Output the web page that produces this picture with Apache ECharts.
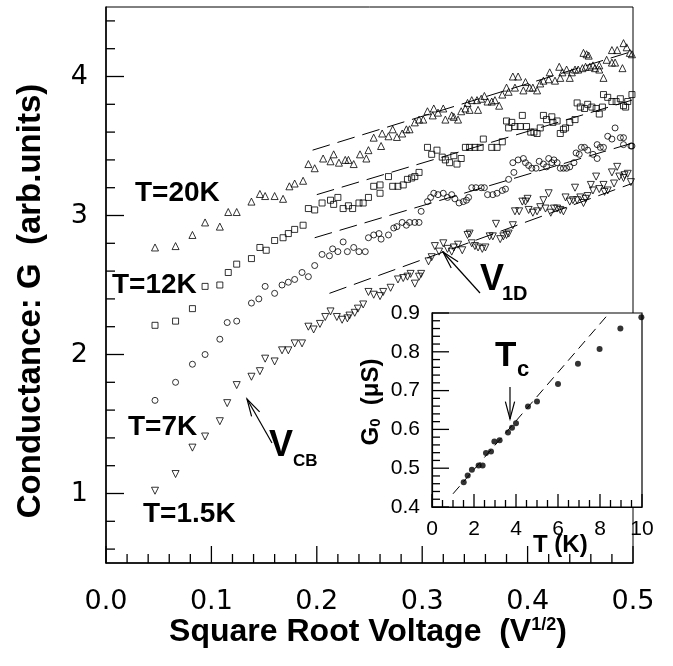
<!DOCTYPE html>
<html>
<head>
<meta charset="utf-8">
<title>Conductance vs square root voltage</title>
<script src="https://cdn.jsdelivr.net/npm/echarts@6/dist/echarts.min.js"></script>
<style>
    html, body { margin: 0; padding: 0; background: #fff; }
    #chart { width: 673px; height: 666px; }
</style>
</head>
<body>
<div id="chart"></div>
<script>
'use strict';

// main panel: [sqrt(V), G]
var t20K = [[0.0465,2.77],[0.066,2.78],[0.082,2.86],[0.094,2.95],[0.108,2.92],[0.116,3.025],[0.124,3.025],[0.138,3.10],[0.146,3.155],[0.151,3.14],[0.160,3.14],[0.168,3.12],[0.174,3.21],[0.179,3.23],[0.187,3.25],[0.192,3.37],[0.198,3.34],[0.206,3.41],[0.213,3.39],[0.216,3.44],[0.221,3.38],[0.227,3.40],[0.230,3.40],[0.235,3.37],[0.241,3.44],[0.247,3.41],[0.249,3.47],[0.254,3.56],[0.261,3.50],[0.262,3.59],[0.268,3.57],[0.272,3.62],[0.276,3.565],[0.281,3.59],[0.285,3.62],[0.288,3.62],[0.293,3.67],[0.297,3.69],[0.301,3.69],[0.305,3.75],[0.310,3.72],[0.311,3.77],[0.315,3.74],[0.320,3.77],[0.322,3.69],[0.328,3.72],[0.330,3.71],[0.334,3.69],[0.337,3.75],[0.341,3.77],[0.343,3.81],[0.345,3.76],[0.347,3.83],[0.352,3.83],[0.353,3.76],[0.356,3.84],[0.359,3.86],[0.362,3.82],[0.366,3.82],[0.369,3.83],[0.373,3.79],[0.376,3.87],[0.380,3.92],[0.382,3.89],[0.386,4.00],[0.388,3.92],[0.391,4.00],[0.396,3.90],[0.398,3.96],[0.402,3.92],[0.405,3.92],[0.409,3.90],[0.412,3.95],[0.415,3.97],[0.420,3.98],[0.421,4.03],[0.426,3.97],[0.430,4.07],[0.431,3.99],[0.433,4.03],[0.437,4.05],[0.440,3.99],[0.442,4.03],[0.445,4.05],[0.448,4.05],[0.452,4.06],[0.453,4.17],[0.455,4.07],[0.456,4.16],[0.458,4.15],[0.459,4.07],[0.462,4.08],[0.464,4.06],[0.468,4.05],[0.468,4.08],[0.472,3.99],[0.475,4.12],[0.480,4.10],[0.480,4.19],[0.483,4.10],[0.485,4.19],[0.490,4.06],[0.491,4.24],[0.494,4.21],[0.497,4.17],[0.499,4.16]];

var t12K = [[0.0465,2.21],[0.066,2.24],[0.082,2.33],[0.094,2.49],[0.108,2.50],[0.116,2.59],[0.124,2.65],[0.138,2.69],[0.146,2.77],[0.152,2.75],[0.160,2.82],[0.168,2.84],[0.173,2.87],[0.179,2.90],[0.187,2.93],[0.192,3.05],[0.198,3.04],[0.205,3.09],[0.213,3.11],[0.216,3.08],[0.220,3.13],[0.225,3.05],[0.230,3.07],[0.234,3.05],[0.240,3.09],[0.244,3.09],[0.249,3.13],[0.254,3.21],[0.260,3.22],[0.260,3.16],[0.268,3.28],[0.272,3.21],[0.277,3.21],[0.282,3.22],[0.286,3.26],[0.290,3.27],[0.293,3.28],[0.297,3.31],[0.305,3.49],[0.309,3.44],[0.314,3.47],[0.319,3.42],[0.322,3.40],[0.326,3.38],[0.330,3.43],[0.333,3.37],[0.337,3.41],[0.341,3.49],[0.345,3.49],[0.350,3.49],[0.355,3.49],[0.358,3.55],[0.366,3.49],[0.371,3.49],[0.376,3.53],[0.380,3.68],[0.382,3.63],[0.385,3.67],[0.388,3.64],[0.393,3.64],[0.395,3.72],[0.399,3.64],[0.403,3.60],[0.406,3.60],[0.409,3.59],[0.412,3.63],[0.415,3.72],[0.418,3.69],[0.423,3.71],[0.424,3.67],[0.428,3.68],[0.431,3.59],[0.434,3.62],[0.436,3.63],[0.440,3.67],[0.445,3.69],[0.447,3.81],[0.450,3.78],[0.454,3.77],[0.457,3.80],[0.461,3.78],[0.465,3.77],[0.468,3.73],[0.471,3.78],[0.472,3.87],[0.476,3.85],[0.480,3.82],[0.484,3.82],[0.488,3.84],[0.491,3.79],[0.493,3.78],[0.495,3.82],[0.499,3.87]];

var t7K = [[0.0465,1.67],[0.066,1.80],[0.082,1.93],[0.094,2.00],[0.108,2.11],[0.115,2.23],[0.124,2.24],[0.138,2.37],[0.145,2.40],[0.151,2.49],[0.160,2.44],[0.167,2.50],[0.173,2.52],[0.179,2.54],[0.186,2.59],[0.192,2.56],[0.198,2.64],[0.205,2.72],[0.212,2.71],[0.215,2.76],[0.220,2.74],[0.225,2.81],[0.229,2.74],[0.235,2.77],[0.240,2.74],[0.246,2.74],[0.249,2.84],[0.254,2.86],[0.259,2.87],[0.261,2.83],[0.268,2.86],[0.273,2.91],[0.276,2.92],[0.281,2.95],[0.285,2.93],[0.288,2.95],[0.293,2.95],[0.297,2.95],[0.299,3.03],[0.305,3.10],[0.308,3.13],[0.311,3.16],[0.315,3.15],[0.320,3.16],[0.324,3.13],[0.328,3.15],[0.331,3.12],[0.335,3.09],[0.339,3.10],[0.342,3.11],[0.344,3.13],[0.347,3.20],[0.351,3.20],[0.356,3.20],[0.359,3.20],[0.362,3.15],[0.367,3.15],[0.371,3.16],[0.376,3.18],[0.379,3.19],[0.382,3.26],[0.387,3.31],[0.386,3.38],[0.391,3.40],[0.396,3.41],[0.398,3.38],[0.401,3.36],[0.404,3.34],[0.408,3.34],[0.411,3.39],[0.415,3.37],[0.418,3.35],[0.420,3.41],[0.423,3.38],[0.425,3.40],[0.428,3.38],[0.431,3.34],[0.434,3.34],[0.437,3.34],[0.440,3.35],[0.444,3.38],[0.446,3.45],[0.449,3.44],[0.451,3.49],[0.454,3.49],[0.457,3.47],[0.462,3.44],[0.466,3.51],[0.466,3.41],[0.469,3.49],[0.472,3.49],[0.476,3.57],[0.480,3.55],[0.483,3.63],[0.488,3.56],[0.491,3.56],[0.491,3.51],[0.498,3.50],[0.499,3.50]];

var t1p5K = [[0.0465,1.02],[0.066,1.14],[0.082,1.33],[0.094,1.41],[0.108,1.52],[0.115,1.65],[0.124,1.78],[0.138,1.84],[0.146,1.88],[0.151,1.97],[0.160,1.95],[0.167,2.03],[0.173,2.03],[0.179,2.08],[0.186,2.08],[0.192,2.20],[0.197,2.18],[0.203,2.22],[0.208,2.27],[0.213,2.31],[0.219,2.27],[0.224,2.25],[0.229,2.26],[0.231,2.28],[0.236,2.30],[0.239,2.33],[0.244,2.36],[0.249,2.45],[0.254,2.43],[0.260,2.42],[0.263,2.45],[0.270,2.48],[0.277,2.54],[0.282,2.55],[0.286,2.56],[0.289,2.58],[0.293,2.51],[0.297,2.56],[0.299,2.58],[0.306,2.67],[0.309,2.70],[0.312,2.78],[0.316,2.74],[0.320,2.80],[0.324,2.76],[0.328,2.74],[0.330,2.77],[0.334,2.79],[0.338,2.75],[0.343,2.86],[0.345,2.87],[0.347,2.80],[0.350,2.78],[0.353,2.77],[0.357,2.76],[0.360,2.77],[0.364,2.85],[0.367,2.85],[0.370,2.94],[0.374,2.83],[0.377,2.85],[0.380,2.86],[0.382,2.87],[0.386,2.93],[0.388,3.03],[0.392,3.03],[0.395,3.10],[0.398,3.10],[0.400,3.12],[0.401,3.04],[0.405,3.02],[0.409,3.03],[0.412,3.06],[0.415,3.11],[0.417,3.05],[0.420,3.16],[0.422,3.02],[0.425,3.05],[0.428,3.05],[0.431,3.04],[0.434,3.03],[0.436,3.13],[0.440,3.10],[0.443,3.11],[0.445,3.20],[0.447,3.11],[0.450,3.13],[0.453,3.09],[0.455,3.12],[0.457,3.14],[0.460,3.22],[0.462,3.18],[0.465,3.28],[0.468,3.19],[0.472,3.22],[0.473,3.17],[0.476,3.18],[0.480,3.31],[0.482,3.23],[0.485,3.35],[0.487,3.28],[0.491,3.27],[0.492,3.29],[0.495,3.30],[0.498,3.24]];

// dashed fits, start and end points
var fit20K = [[0.196, 3.47], [0.499, 4.18]];
var fit12K = [[0.200, 3.15], [0.499, 3.83]];
var fit7K = [[0.198, 2.84], [0.499, 3.52]];
var fit1p5K = [[0.212, 2.44], [0.499, 3.23]];

// main panel ticks
var xMajorTicks = [0, 0.1, 0.2, 0.3, 0.4, 0.5];
var xMinorTicks = [0.02, 0.04, 0.06, 0.08, 0.12, 0.14, 0.16, 0.18, 0.22, 0.24, 0.26, 0.28, 0.32, 0.34, 0.36, 0.38, 0.42, 0.44, 0.46, 0.48];
var yMajorTicks = [1, 2, 3, 4];
var yMinorTicks = [0.6, 0.8, 1.2, 1.4, 1.6, 1.8, 2.2, 2.4, 2.6, 2.8, 3.2, 3.4, 3.6, 3.8, 4.2, 4.4];

// inset: G0 vs T
var insetT = [1.51, 1.70, 1.90, 2.22, 2.41, 2.57, 2.81, 2.97, 3.22, 3.62, 3.81, 4.00, 4.57, 5.00, 6.00, 6.95, 7.98, 8.97, 9.97];
var insetG = [0.464, 0.481, 0.496, 0.507, 0.507, 0.539, 0.543, 0.569, 0.572, 0.592, 0.604, 0.616, 0.659, 0.672, 0.717, 0.769, 0.807, 0.860, 0.889];
var insetFitT = [1.0, 8.3];
var insetFitG = [0.434, 0.891];

// inset ticks
var insetXMajor = [0, 2, 4, 6, 8, 10];
var insetXMinor = [0.5, 1, 1.5, 2.5, 3, 3.5, 4.5, 5, 5.5, 6.5, 7, 7.5, 8.5, 9, 9.5];
var insetYMajor = [0.4, 0.5, 0.6, 0.7, 0.8, 0.9];
var insetYMinor = [0.42, 0.44, 0.46, 0.48, 0.52, 0.54, 0.56, 0.58, 0.62, 0.64, 0.66, 0.68, 0.72, 0.74, 0.76, 0.78, 0.82, 0.84, 0.86, 0.88];

var FONT = "'Liberation Sans', Arial, sans-serif";
var TICKFONT = "'DejaVu Sans', sans-serif";

function zip(a, b) {
    var arr = [];
    for (var i = 0; i < a.length; i++) {
        arr.push([a[i], b[i]]);
    }
    return arr;
}

function hollow(name, symbol, size, data, rotate) {
    return {
        name: name,
        type: 'scatter',
        xAxisIndex: 0,
        yAxisIndex: 0,
        symbol: symbol,
        symbolSize: size,
        symbolRotate: rotate || 0,
        clip: false,
        itemStyle: { color: 'rgba(0,0,0,0)', borderColor: '#000', borderWidth: 1 },
        data: data,
        z: 3
    };
}

function fitLine(data) {
    return {
        type: 'line',
        xAxisIndex: 0,
        yAxisIndex: 0,
        symbol: 'none',
        silent: true,
        clip: false,
        lineStyle: { color: '#000', width: 1, type: [18, 8] },
        data: data,
        z: 2
    };
}

function label(text, x, y, size, extra) {
    var st = {
        text: text,
        x: x,
        y: y,
        fill: '#000',
        font: 'bold ' + size + 'px ' + FONT,
        textAlign: 'left',
        textVerticalAlign: 'middle'
    };
    for (var k in extra) { st[k] = extra[k]; }
    return { type: 'text', z: 20, style: st };
}

// open arrow from tail (x1,y1) to tip (x2,y2)
function arrow(x1, y1, x2, y2) {
    var a = Math.atan2(y2 - y1, x2 - x1);
    var head = 18, spread = 0.26;
    var p1 = [x2 - head * Math.cos(a - spread), y2 - head * Math.sin(a - spread)];
    var p2 = [x2 - head * Math.cos(a + spread), y2 - head * Math.sin(a + spread)];
    return [
        { type: 'line', z: 20, shape: { x1: x1, y1: y1, x2: x2, y2: y2 }, style: { stroke: '#000', lineWidth: 1.2 } },
        { type: 'polyline', z: 20, shape: { points: [p1, [x2, y2], p2] }, style: { stroke: '#000', fill: null, lineWidth: 1.2 } }
    ];
}

var graphics = [
    label('T=20K', 135, 193, 28),
    label('T=12K', 112, 285, 28),
    label('T=7K', 128, 427, 28),
    label('T=1.5K', 143, 514, 28),
    label('V', 269, 446, 36),
    label('CB', 293, 461, 17),
    label('V', 480, 280, 36),
    label('1D', 502, 294, 20),
    label('T', 495, 356, 35),
    label('c', 517, 370, 22),
    label('T (K)', 533, 545, 24),
    label('{a|Square Root Voltage  (V}{s|1/2}{a|)}', 368, 632, 32, {
        textAlign: 'center',
        rich: {
            a: { font: 'bold 32px ' + FONT, fill: '#000' },
            s: { font: 'bold 18px ' + FONT, fill: '#000', verticalAlign: 'top', padding: [0, 0, 10, 0] }
        }
    }),
    {
        type: 'text', z: 20, x: 31, y: 301, rotation: Math.PI / 2,
        style: {
            text: 'Conductance: G  (arb.units)', fill: '#000',
            font: 'bold 33px ' + FONT, textAlign: 'center', textVerticalAlign: 'middle'
        }
    },
    {
        type: 'text', z: 20, x: 371, y: 402, rotation: Math.PI / 2,
        style: {
            text: '{a|G}{b|0}{a|  (μS)}', fill: '#000', textAlign: 'center', textVerticalAlign: 'middle',
            rich: {
                a: { font: 'bold 24px ' + FONT, fill: '#000' },
                b: { font: 'bold 15px ' + FONT, fill: '#000', verticalAlign: 'bottom', padding: [8, 0, 0, 0] }
            }
        }
    }
].concat(arrow(272, 443, 247, 399), arrow(480, 293, 443, 252), arrow(510, 387, 510, 419));

var chart = echarts.init(document.getElementById('chart'));

var option = {
    animation: false,
    backgroundColor: '#fff',
    grid: [{
        left: 106, top: 7, width: 527, height: 556,
        show: true, borderColor: '#000', borderWidth: 1, backgroundColor: 'rgba(0,0,0,0)'
    }, {
        left: 432, top: 313, width: 210, height: 194, z: 5,
        show: true, borderColor: '#000', borderWidth: 1.2, backgroundColor: '#fff'
    }],
    xAxis: [{
        gridIndex: 0, type: 'value', min: 0, max: 0.5, interval: 0.1,
        axisLine: { show: true, lineStyle: { color: '#000', width: 1.5 } },
        axisTick: { show: false },
        minorTick: { show: false },
        splitLine: { show: false },
        axisLabel: {
            color: '#000', fontSize: 27, fontFamily: TICKFONT, margin: 25,
            formatter: function (v) { return v.toFixed(1); }
        }
    }, {
        gridIndex: 1, type: 'value', min: 0, max: 10, interval: 2, z: 6,
        axisLine: { show: true, lineStyle: { color: '#000', width: 1.2 } },
        axisTick: { show: false },
        minorTick: { show: false },
        splitLine: { show: false },
        axisLabel: { color: '#000', fontSize: 21, fontFamily: FONT, margin: 12 }
    }],
    yAxis: [{
        gridIndex: 0, type: 'value', min: 0.5, max: 4.5,
        axisLine: { show: true, lineStyle: { color: '#000', width: 1.5 } },
        axisTick: { show: false },
        minorTick: { show: false },
        splitLine: { show: false },
        axisLabel: { color: '#000', fontSize: 27, fontFamily: TICKFONT, margin: 18, customValues: yMajorTicks }
    }, {
        gridIndex: 1, type: 'value', min: 0.4, max: 0.9, interval: 0.1, z: 6,
        axisLine: { show: true, lineStyle: { color: '#000', width: 1.2 } },
        axisTick: { show: false },
        minorTick: { show: false },
        splitLine: { show: false },
        axisLabel: {
            color: '#000', fontSize: 21, fontFamily: FONT, margin: 12,
            formatter: function (v) { return v.toFixed(1); }
        }
    }],
    series: [
        fitLine(fit20K),
        fitLine(fit12K),
        fitLine(fit7K),
        fitLine(fit1p5K),
        hollow('T=20K', 'triangle', 7, t20K),
        hollow('T=12K', 'rect', 6, t12K),
        hollow('T=7K', 'circle', 6, t7K),
        hollow('T=1.5K', 'triangle', 7, t1p5K, 180),
        {
            type: 'line', xAxisIndex: 1, yAxisIndex: 1, symbol: 'none', silent: true, z: 7,
            lineStyle: { color: '#000', width: 1, type: [10, 6] },
            data: zip(insetFitT, insetFitG)
        },
        {
            type: 'scatter', xAxisIndex: 1, yAxisIndex: 1, symbol: 'circle', symbolSize: 6, clip: false, z: 8,
            itemStyle: { color: '#000' },
            data: zip(insetT, insetG)
        }
    ]
};

chart.setOption(option);

// inward ticks, placed with the grids' own scales
function ticks(gridIndex, values, dir, len, base) {
    var els = [];
    for (var i = 0; i < values.length; i++) {
        var p, shape;
        if (dir === 0) {
            p = chart.convertToPixel({ gridIndex: gridIndex }, [values[i], base]);
            shape = { x1: p[0], y1: p[1], x2: p[0], y2: p[1] - len };
        } else {
            p = chart.convertToPixel({ gridIndex: gridIndex }, [base, values[i]]);
            shape = { x1: p[0], y1: p[1], x2: p[0] + len, y2: p[1] };
        }
        els.push({ type: 'line', z: 20, shape: shape, style: { stroke: '#000', lineWidth: 1.3 } });
    }
    return els;
}

var tickEls = [].concat(
    ticks(0, xMajorTicks, 0, 17, 0.5),
    ticks(0, xMinorTicks, 0, 9, 0.5),
    ticks(0, yMajorTicks, 1, 18, 0),
    ticks(0, yMinorTicks, 1, 9, 0),
    ticks(1, insetXMajor, 0, 13, 0.4),
    ticks(1, insetXMinor, 0, 7, 0.4),
    ticks(1, insetYMajor, 1, 17, 0),
    ticks(1, insetYMinor, 1, 8, 0)
);

chart.setOption({ graphic: { elements: graphics.concat(tickEls) } });
</script>
</body>
</html>
